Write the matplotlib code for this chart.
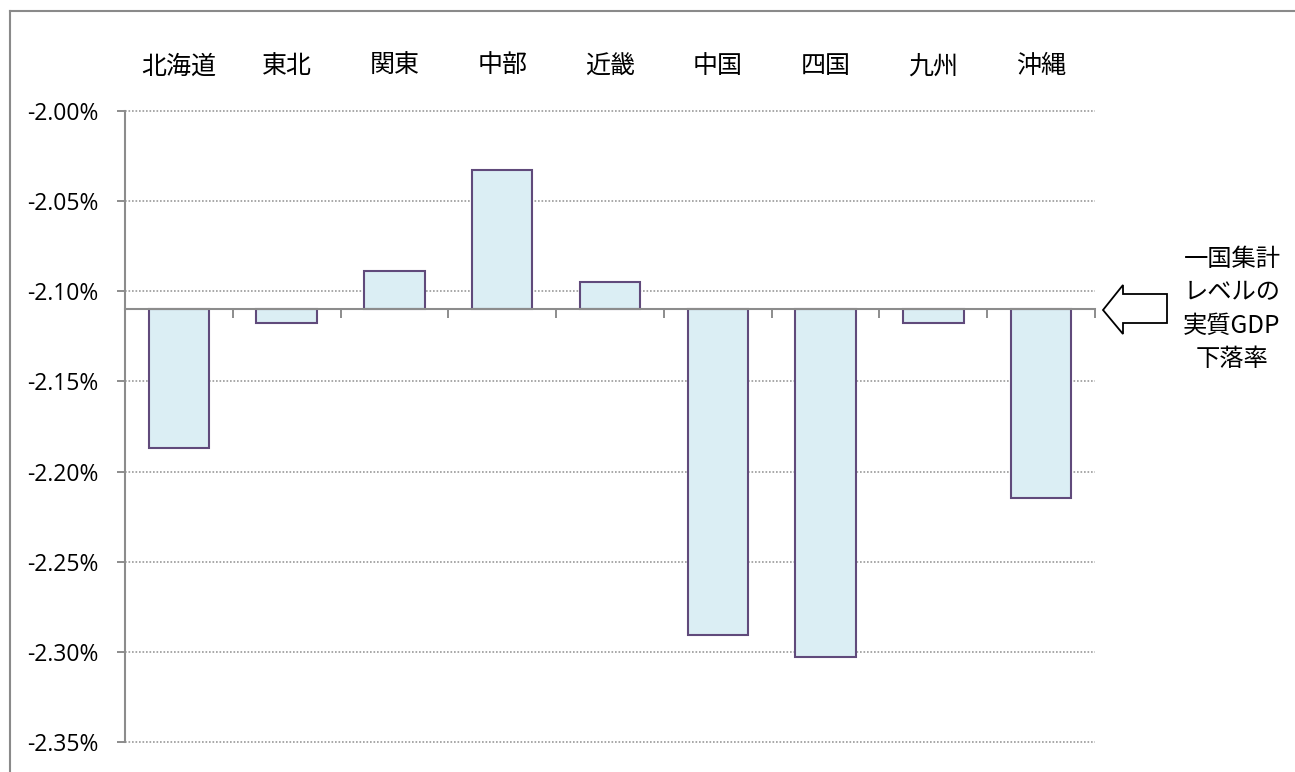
import matplotlib
matplotlib.use("Agg")
import matplotlib.pyplot as plt
import numpy as np
from matplotlib.patches import Polygon
from matplotlib.lines import Line2D

# regional real GDP change (%) vs. the national aggregate
regions = ['北海道', '東北', '関東', '中部', '近畿', '中国', '四国', '九州', '沖縄']
gdp_change = [-2.1868, -2.1176, -2.0887, -2.0327, -2.0946, -2.2909, -2.3032, -2.1176, -2.2147]
national = -2.110
yticks = [-2.35, -2.30, -2.25, -2.20, -2.15, -2.10, -2.05, -2.00]

W, H = 1295, 772
cjk = ['Noto Sans CJK JP', 'DejaVu Sans']
num_font = 'Open Sans'
gray = '#8c8c8c'

fig = plt.figure(figsize=(W / 100, H / 100), dpi=100)
ax = fig.add_axes([125 / W, 1 - 741.7 / H, (1095 - 125) / W, (741.7 - 111.3) / H])

x = np.arange(len(regions))
heights = [v - national for v in gdp_change]
ax.bar(x, heights, bottom=national, width=0.56, color='#DBEEF4',
       edgecolor='#604A7B', linewidth=1.5, zorder=2)

ax.set_xlim(-0.5, len(regions) - 0.5)
ax.set_ylim(yticks[0], yticks[-1])

# dotted horizontal grid
for v in yticks:
    ax.axhline(v, color='#999999', lw=1.2, ls=(0, (1, 1.1)), zorder=0.5, clip_on=False)

# y axis
ax.set_yticks(yticks)
ax.set_yticklabels([f'{v:.2f}%' for v in yticks], fontfamily=num_font, fontsize=16.5)
ax.tick_params(axis='y', direction='out', length=6, width=1.4, color=gray, pad=13)
ax.spines['left'].set_color(gray)
ax.spines['left'].set_linewidth(1.5)

# horizontal axis sits on the national level, ticks between regions
ax.spines['bottom'].set_position(('data', national))
ax.spines['bottom'].set_color(gray)
ax.spines['bottom'].set_linewidth(1.5)
ax.spines['bottom'].set_zorder(3)
ax.set_xticks(x + 0.5)
ax.tick_params(axis='x', direction='out', length=6.5, width=1.4, color=gray,
               labelbottom=False)
ax.spines['top'].set_visible(False)
ax.spines['right'].set_visible(False)

# region names along the top
sec = ax.secondary_xaxis('top')
sec.set_xticks(x)
sec.set_xticklabels(regions, fontfamily=cjk, fontsize=18)
sec.tick_params(length=0, pad=23)
sec.spines['top'].set_visible(False)

# outlined arrow pointing at the national level
arrow_px = [(1103, 310), (1123, 285), (1123, 294), (1167, 294),
            (1167, 323), (1123, 323), (1123, 334)]
arrow = Polygon([(px / W, 1 - py / H) for px, py in arrow_px], closed=True,
                facecolor='white', edgecolor='black', lw=1.3,
                transform=fig.transFigure)
fig.add_artist(arrow)
fig.text(1232 / W, 1 - 309 / H, '一国集計\nレベルの\n実質GDP\n下落率',
         ha='center', va='center', fontfamily=cjk, fontsize=17.5, linespacing=1.35)

# chart frame
fig.add_artist(Line2D([10 / W, 10 / W], [0, 1 - 11 / H], color='#8a8a8a', lw=1.5,
                      transform=fig.transFigure))
fig.add_artist(Line2D([10 / W, 1], [1 - 11 / H, 1 - 11 / H], color='#8a8a8a', lw=1.5,
                      transform=fig.transFigure))

fig.savefig('out.png', dpi=100, facecolor='white')
